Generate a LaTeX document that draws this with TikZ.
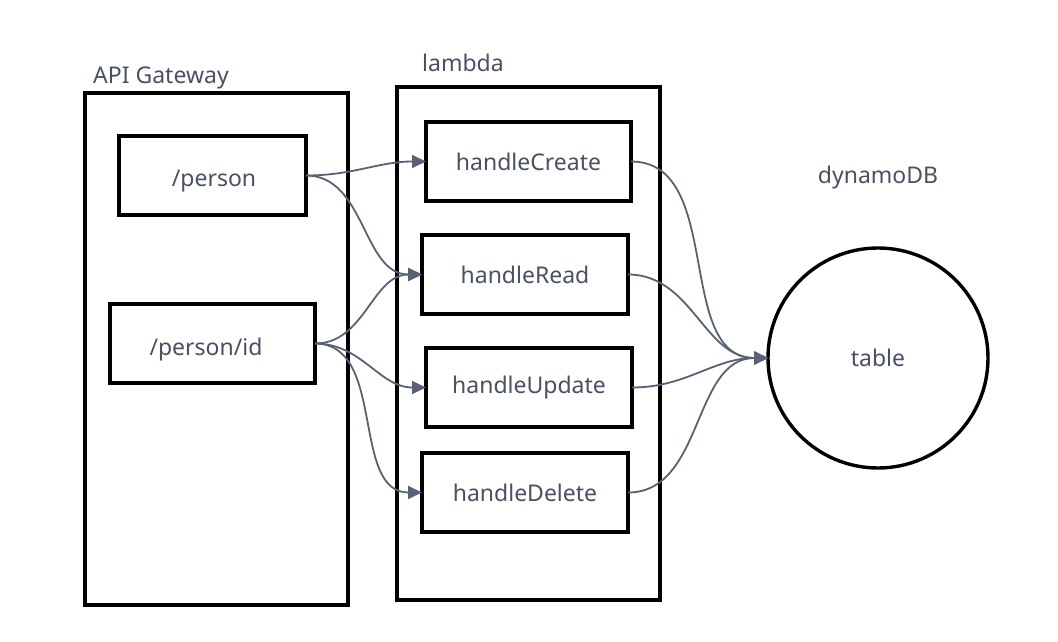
\documentclass[tikz,border=0pt]{standalone}
\usepackage{fontspec}
\setmainfont{Noto Sans}
\usetikzlibrary{arrows.meta}
\definecolor{txt}{RGB}{72,80,98}
\definecolor{conn}{RGB}{88,97,118}
\begin{document}
\begin{tikzpicture}[x=1pt,y=-1pt,
  box/.style={draw=black,line width=3.4pt,inner sep=0pt,outer sep=0pt,text=txt,font=\fontsize{23}{27}\selectfont},
  lbl/.style={text=txt,font=\fontsize{23}{27}\selectfont,inner sep=0pt},
  conn/.style={draw=conn,line width=1.8pt,-{Triangle[length=14pt,width=13pt]}}]
\useasboundingbox (0,0) rectangle (1058,642);
% containers
\node[box,minimum width=263pt,minimum height=512pt] (api) at (216.5,349) {};
\node[box,minimum width=263pt,minimum height=513pt] (lam) at (528.5,343.5) {};
\node[lbl,anchor=west] (apil) at (93,78) {API Gateway};
\node[lbl] (laml) at (463,63) {lambda};
\node[lbl] (dynl) at (878,178) {dynamoDB};
% api boxes
\node[box,minimum width=187pt,minimum height=79pt] (person) at (212.5,175.5) {};
\node[lbl] (persont) at (214,181) {/person};
\node[box,minimum width=205pt,minimum height=79pt] (personid) at (212.5,343.5) {};
\node[lbl] (personidt) at (206,350) {/person/id};
% lambda boxes
\node[box,minimum width=205pt,minimum height=79pt] (create) at (528.5,161.5) {handleCreate};
\node[box,minimum width=206pt,minimum height=79pt] (read) at (525,274.5) {handleRead};
\node[box,minimum width=206pt,minimum height=79pt] (update) at (529,387.5) {handleUpdate};
\node[box,minimum width=206pt,minimum height=79pt] (delete) at (525,492.5) {handleDelete};
% table
\node[box,circle,minimum size=220pt] (table) at (878,358) {table};
% connectors
\draw[conn] (person.east) to[out=0,in=180] (create.west);
\draw[conn] (person.east) to[out=0,in=180] (read.west);
\draw[conn] (personid.east) to[out=0,in=180] (read.west);
\draw[conn] (personid.east) to[out=0,in=180] (update.west);
\draw[conn] (personid.east) to[out=0,in=180] (delete.west);
\draw[conn] (create.east) to[out=0,in=180] (table.west);
\draw[conn] (read.east) to[out=0,in=180] (table.west);
\draw[conn] (update.east) to[out=0,in=180] (table.west);
\draw[conn] (delete.east) to[out=0,in=180] (table.west);
\end{tikzpicture}
\end{document}
